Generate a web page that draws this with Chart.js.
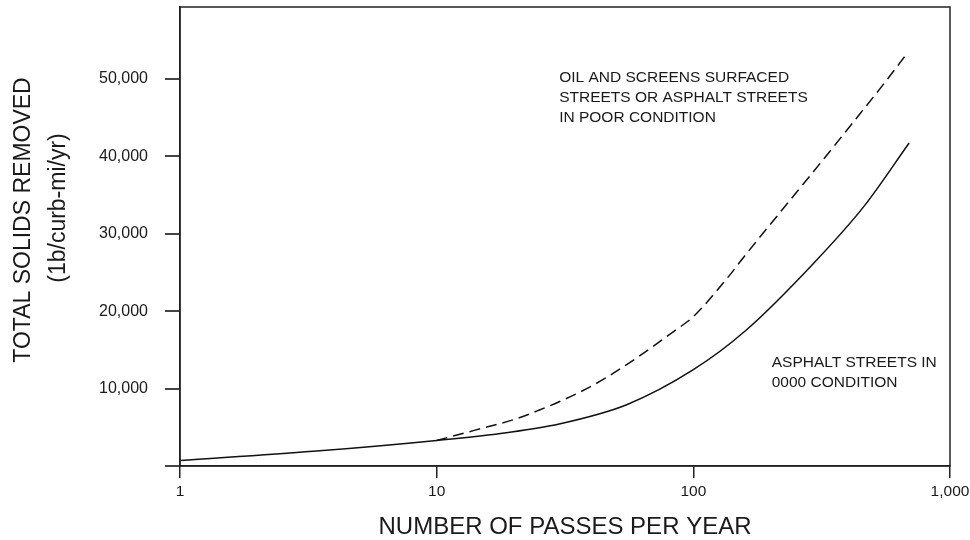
<!DOCTYPE html>
<html>
<head>
<meta charset="utf-8">
<script src="https://cdn.jsdelivr.net/npm/chart.js@4/dist/chart.umd.min.js"></script>
<style>
  html, body { margin: 0; padding: 0; background: #fff; }
  #wrap { width: 970px; height: 540px; }
</style>
</head>
<body>
<div id="wrap"><canvas id="chart"></canvas></div>
<script>
// passes per year (log axis) and solids removed
const goodPasses = [1, 3.3, 10, 19, 30, 55, 100, 160, 295, 462, 693];
const goodSolids = [700, 1890, 3300, 4340, 5430, 7920, 12440, 17500, 26230, 33540, 41730];

const poorPasses = [10, 14, 20, 25, 30, 40, 55, 84, 100, 135, 160, 250, 295, 410, 550, 673];
const poorSolids = [3300, 4600, 6000, 7200, 8300, 10300, 13100, 17400, 19300, 24200, 27300, 35200, 38100, 44000, 49300, 53100];

const xTicks = [1, 10, 100, 1000];
const yTicks = [0, 10000, 20000, 30000, 40000, 50000];

const yTitle = ['TOTAL SOLIDS REMOVED', '(1b/curb-mi/yr)'];
const xTitle = 'NUMBER OF PASSES PER YEAR';
const poorNote = ['OIL AND SCREENS SURFACED', 'STREETS OR ASPHALT STREETS', 'IN POOR CONDITION'];
const goodNote = ['ASPHALT STREETS IN', '0000 CONDITION'];

function toPoints(xs, ys) {
  return xs.map((x, i) => ({ x: x, y: ys[i] }));
}

// drop the automatic label padding so the plot frame sits where the figure has it
function noPad(s) {
  s.paddingTop = 0;
  s.paddingBottom = 0;
  s.paddingLeft = 0;
  s.paddingRight = 0;
}

const ink = '#111';
const font = 'Liberation Sans, Arial, Helvetica, sans-serif';

const textPlugin = {
  id: 'texts',
  afterDraw(chart) {
    const ctx = chart.ctx;
    const a = chart.chartArea;
    const xs = chart.scales.x, ys = chart.scales.y;
    ctx.save();

    // frame
    ctx.strokeStyle = '#222';
    ctx.lineWidth = 1.5;
    ctx.strokeRect(a.left, a.top, a.right - a.left, a.bottom - a.top);

    ctx.fillStyle = '#1a1a1a';

    // x title
    ctx.font = '24px ' + font;
    ctx.textAlign = 'center';
    ctx.textBaseline = 'alphabetic';
    ctx.fillText(xTitle, (a.left + a.right) / 2, 534);

    // y title, two lines
    ctx.font = '23px ' + font;
    ctx.textBaseline = 'middle';
    ctx.save();
    ctx.translate(24, 220);
    ctx.rotate(-Math.PI / 2);
    ctx.fillText(yTitle[0], 0, 0);
    ctx.restore();
    ctx.save();
    ctx.translate(59, 208);
    ctx.rotate(-Math.PI / 2);
    ctx.fillText(yTitle[1], 0, 0);
    ctx.restore();

    // curve notes
    ctx.font = '15.5px ' + font;
    ctx.textAlign = 'left';
    let px = xs.getPixelForValue(30), py = ys.getPixelForValue(50200);
    poorNote.forEach((t, i) => ctx.fillText(t, px, py + i * 20));
    px = xs.getPixelForValue(202); py = ys.getPixelForValue(13340);
    goodNote.forEach((t, i) => ctx.fillText(t, px, py + i * 20));

    ctx.restore();
  }
};

new Chart(document.getElementById('chart'), {
  type: 'line',
  data: {
    datasets: [
      {
        label: 'Asphalt streets in good condition',
        data: toPoints(goodPasses, goodSolids),
        borderColor: ink,
        borderWidth: 1.5,
        pointRadius: 0,
        cubicInterpolationMode: 'monotone',
        fill: false
      },
      {
        label: 'Oil and screens / poor condition',
        data: toPoints(poorPasses, poorSolids),
        borderColor: ink,
        borderWidth: 1.5,
        borderDash: [11, 6],
        pointRadius: 0,
        cubicInterpolationMode: 'monotone',
        fill: false
      }
    ]
  },
  options: {
    responsive: true,
    maintainAspectRatio: false,
    animation: false,
    layout: { padding: { left: 0, top: 7, right: 20, bottom: 0 } },
    plugins: {
      legend: { display: false },
      tooltip: { enabled: false }
    },
    scales: {
      x: {
        type: 'logarithmic',
        min: 1,
        max: 1000,
        afterBuildTicks: s => { s.ticks = xTicks.map(v => ({ value: v })); },
        afterFit: s => { s.height = 74; noPad(s); },
        grid: { drawOnChartArea: false, drawTicks: true, tickLength: 12, color: '#222', lineWidth: 1.5 },
        border: { display: true, color: '#222', width: 1.5 },
        ticks: {
          color: '#1a1a1a',
          padding: 4,
          maxRotation: 0,
          font: { family: font, size: 15.5 },
          callback: v => Number(v).toLocaleString('en-US')
        }
      },
      y: {
        type: 'linear',
        min: 0,
        max: 59300,
        afterBuildTicks: s => { s.ticks = yTicks.map(v => ({ value: v })); },
        afterFit: s => { s.width = 180; noPad(s); },
        grid: { drawOnChartArea: false, drawTicks: true, tickLength: 15, color: '#444', lineWidth: 2 },
        border: { display: true, color: '#222', width: 1.5 },
        ticks: {
          color: '#1a1a1a',
          padding: 17,
          font: { family: font, size: 16 },
          callback: v => v === 0 ? '' : Number(v).toLocaleString('en-US')
        }
      }
    }
  },
  plugins: [textPlugin]
});
</script>
</body>
</html>
